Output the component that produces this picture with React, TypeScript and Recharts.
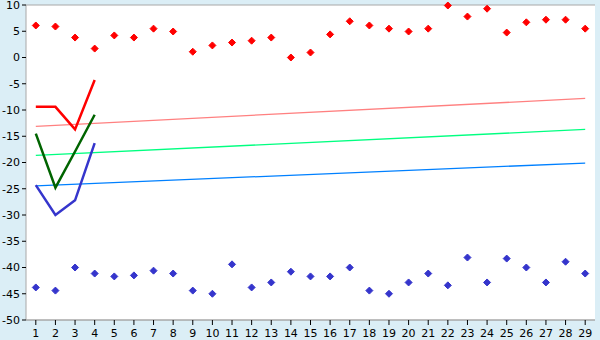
import React from 'react';
import { ComposedChart, Line, XAxis, YAxis, CartesianGrid } from 'recharts';

const categories = [1, 2, 3, 4, 5, 6, 7, 8, 9, 10, 11, 12, 13, 14, 15, 16, 17, 18, 19, 20, 21, 22, 23, 24, 25, 26, 27, 28, 29];

const redPoints = [6.1, 5.9, 3.8, 1.7, 4.2, 3.8, 5.5, 4.95, 1.1, 2.3, 2.85, 3.2, 3.8, 0, 0.95, 4.4, 6.9, 6.1, 5.5, 4.95, 5.5, 9.9, 7.8, 9.3, 4.75, 6.7, 7.2, 7.2, 5.5];
const bluePoints = [-43.8, -44.4, -40, -41.15, -41.7, -41.5, -40.6, -41.15, -44.4, -45, -39.4, -43.8, -42.85, -40.8, -41.7, -41.7, -40, -44.4, -45, -42.85, -41.15, -43.4, -38.1, -42.85, -38.3, -40, -42.85, -38.9, -41.15];

// short thick series over the first four categories
const redLine = [-9.4, -9.4, -13.7, -4.3];
const greenLine = [-14.5, -24.8, -17.9, -10.9];
const blueLine = [-24.3, -30.0, -27.2, -16.3];

// trend lines: start and end values
const redTrend = [-13.1, -7.8];
const greenTrend = [-18.65, -13.7];
const blueTrend = [-24.45, -20.1];

const yTicks = [-50, -45, -40, -35, -30, -25, -20, -15, -10, -5, 0, 5, 10];

const last = categories.length - 1;
const data = categories.map((x, i) => ({
  x,
  red: redPoints[i],
  blue: bluePoints[i],
  redLine: i < redLine.length ? redLine[i] : undefined,
  greenLine: i < greenLine.length ? greenLine[i] : undefined,
  blueLine: i < blueLine.length ? blueLine[i] : undefined,
  redTrend: i === 0 ? redTrend[0] : i === last ? redTrend[1] : undefined,
  greenTrend: i === 0 ? greenTrend[0] : i === last ? greenTrend[1] : undefined,
  blueTrend: i === 0 ? blueTrend[0] : i === last ? blueTrend[1] : undefined,
}));

const Diamond = (color: string) => (props: any) => {
  const { cx, cy, payload, dataKey } = props;
  if (cx == null || cy == null || payload?.[dataKey] == null) return <g key={props.key} />;
  const r = 3.5;
  return (
    <path
      key={props.key}
      d={`M${cx},${cy - r} L${cx + r},${cy} L${cx},${cy + r} L${cx - r},${cy} Z`}
      fill={color}
      stroke={color}
      strokeWidth={1}
    />
  );
};

const tickStyle = { fontFamily: 'DejaVu Sans', fontSize: 11, fill: '#000' };

const App: React.FC = () => {
  return (
    <div style={{ position: 'absolute', left: 0, top: 0, width: 600, height: 340, background: '#DBEEF6' }}>
      <ComposedChart width={600} height={340} data={data} margin={{ top: 5, right: 5, bottom: 0, left: 0 }}>
        <CartesianGrid vertical={false} stroke="#A8A8A8" fill="#fff" />
        <XAxis
          dataKey="x"
          type="number"
          domain={[0.5, 29.5]}
          ticks={categories}
          interval={0}
          allowDataOverflow
          height={20}
          tick={tickStyle}
          tickSize={5}
          tickMargin={4}
          axisLine={{ stroke: '#A8A8A8' }}
          tickLine={{ stroke: '#000' }}
        />
        <YAxis
          yAxisId="l"
          type="number"
          domain={[-50, 10]}
          ticks={yTicks}
          interval={0}
          width={26}
          tick={tickStyle}
          tickSize={4}
          tickMargin={2}
          axisLine={{ stroke: '#A8A8A8' }}
          tickLine={{ stroke: '#000' }}
        />
        <YAxis yAxisId="r" orientation="right" width={0} tick={false} tickLine={false} axisLine={{ stroke: '#A8A8A8' }} />

        <Line yAxisId="l" dataKey="redTrend" stroke="#FF8080" strokeWidth={1.3} dot={false} connectNulls isAnimationActive={false} />
        <Line yAxisId="l" dataKey="greenTrend" stroke="#00FF80" strokeWidth={1.3} dot={false} connectNulls isAnimationActive={false} />
        <Line yAxisId="l" dataKey="blueTrend" stroke="#0080FF" strokeWidth={1.3} dot={false} connectNulls isAnimationActive={false} />

        <Line yAxisId="l" dataKey="redLine" stroke="#FF0000" strokeWidth={2.5} dot={false} isAnimationActive={false} />
        <Line yAxisId="l" dataKey="greenLine" stroke="#006400" strokeWidth={2.5} dot={false} isAnimationActive={false} />
        <Line yAxisId="l" dataKey="blueLine" stroke="#3535CC" strokeWidth={2.5} dot={false} isAnimationActive={false} />

        <Line yAxisId="l" dataKey="red" stroke="none" dot={Diamond('#FF0000')} activeDot={false} isAnimationActive={false} />
        <Line yAxisId="l" dataKey="blue" stroke="none" dot={Diamond('#3535CC')} activeDot={false} isAnimationActive={false} />
      </ComposedChart>
    </div>
  );
};

export default App;
